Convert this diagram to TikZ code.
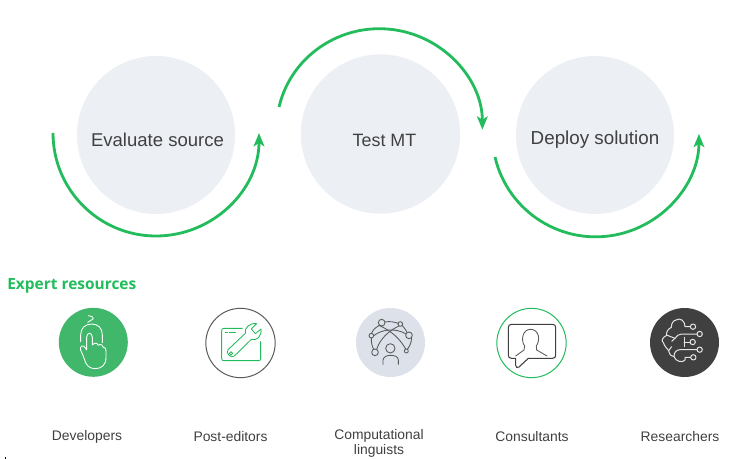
\documentclass[tikz,border=0pt]{standalone}
\usepackage{fontspec}
\setmainfont{Liberation Sans}
\newfontfamily\headfont{Open Sans}
\usetikzlibrary{arrows.meta}
\definecolor{gr}{HTML}{22BC5C}
\definecolor{grfill}{HTML}{41B76B}
\definecolor{pale}{HTML}{ECEFF4}
\definecolor{slate}{HTML}{DCE1EA}
\definecolor{ink}{HTML}{404040}
\definecolor{wire}{HTML}{5A5A5A}
\tikzset{
  stagetext/.style={text=ink,inner sep=0},
  flow/.style={draw=gr,line width=2.1pt,-{Stealth[length=10pt,width=8pt,inset=2.5pt]}},
  lab/.style={text=ink,font=\fontsize{10.4}{11.3}\selectfont,align=center,inner sep=0},
  badge/.style={circle,inner sep=0,minimum size=51.75pt},
  icon/.style={line width=.65pt,line cap=round,line join=round},
}
\begin{document}
\begin{tikzpicture}[x=.75pt,y=-.75pt]
\useasboundingbox (0,0) rectangle (745,459);
% stage circles
\node[circle,fill=pale,inner sep=0,minimum size=118.5pt] (c1) at (156,135) {};
\node[circle,fill=pale,inner sep=0,minimum size=119.5pt] (c2) at (380.5,134) {};
\node[circle,fill=pale,inner sep=0,minimum size=118.5pt] (c3) at (595,135) {};
\node[stagetext,font=\fontsize{13.9}{16}\selectfont] (t1) at (157.5,140) {Evaluate source};
\node[stagetext,font=\fontsize{13.4}{16}\selectfont] (t2) at (384.5,140) {Test MT};
\node[stagetext,font=\fontsize{14.1}{16}\selectfont] (t3) at (595,140) {Deploy solution};
% arcs
\coordinate (a1) at (53,133);
\coordinate (a2) at (279,107);
\coordinate (a3) at (495,157);
\draw[flow] (a1) arc[start angle=180,end angle=0,radius=103];
\draw[flow] (a2) arc[start angle=193,end angle=360,x radius=103,y radius=101];
\draw[flow] (a3) arc[start angle=167,end angle=0,x radius=103.3,y radius=103];
% heading
\node[anchor=west,inner sep=0,text=gr,font=\headfont\bfseries\fontsize{11.6}{13}\selectfont] (head) at (7,285.5) {Expert resources};
% badges
\node[badge,fill=grfill] (b1) at (93.3,342.3) {};
\node[badge,draw=wire,line width=.75pt,minimum size=52pt] (b2) at (240.5,343) {};
\node[badge,fill=slate] (b3) at (390.5,342.5) {};
\node[badge,draw=gr,line width=.75pt,minimum size=52pt] (b4) at (531.5,343) {};
\node[badge,fill=ink] (b5) at (684.5,342.5) {};
% icon 1
\begin{scope}[shift={(40,300)},x=.25pt,y=-.25pt,icon,draw=white]
\draw (145,47) .. controls (155,49) and (163,52) .. (160,56) .. controls (157,61) and (148,62) .. (143,67);
\draw (122,125) -- (122,105) .. controls (122,85) and (135,72) .. (155,72) .. controls (175,72) and (187,85) .. (187,105) -- (187,128);
\draw (124,155) .. controls (118,146) and (122,136) .. (130,138) .. controls (135,140) and (138,146) .. (140,150)
  -- (140,112) .. controls (140,96) and (157,96) .. (157,112) -- (157,135)
  .. controls (165,127) and (172,128) .. (174,136) .. controls (182,130) and (190,136) .. (190,142)
  .. controls (194,140) and (198,145) .. (198,155) -- (198,172) .. controls (198,195) and (185,206) .. (165,206)
  .. controls (148,206) and (138,195) .. (134,180) .. controls (131,170) and (128,163) .. (124,155);
\end{scope}
% icon 2
\begin{scope}[shift={(40,300)},x=.25pt,y=-.25pt,icon,draw=gr]
\draw (607,85) -- (552,85) .. controls (547,85) and (545,87) .. (545,92) -- (545,176) .. controls (545,180) and (547,182) .. (552,182) -- (655,182) .. controls (660,182) and (662,180) .. (662,176) -- (662,125);
\draw (555,97) -- (562,97) (568,97) -- (586,97);
\draw (564,149) -- (616,100) .. controls (612,85) and (628,68) .. (650,71) -- (634,87) -- (646,101) -- (663,87)
 .. controls (666,108) and (650,124) .. (634,118) -- (583,168) .. controls (573,176) and (556,160) .. (564,149);
\draw (573,160) circle[radius=5];
\end{scope}
% icon 3
\begin{scope}[shift={(340,300)},x=.25pt,y=-.25pt,icon,draw=wire]
\draw (125,68) circle[radius=10] (181,72) circle[radius=7] (207,106) circle[radius=10]
 (94,107) circle[radius=7] (105,157) circle[radius=10] (199,153) circle[radius=6] (151,145) circle[radius=14];
\draw (135,66) .. controls (150,63) and (162,66) .. (175,70);
\draw (118,76) .. controls (104,84) and (97,92) .. (95,100);
\draw (187,77) .. controls (193,84) and (198,90) .. (201,97);
\draw (215,113) .. controls (214,130) and (208,140) .. (202,148);
\draw (94,114) .. controls (93,128) and (97,140) .. (101,148);
\draw (101,107) .. controls (130,85) and (170,85) .. (198,102);
\draw (117,76) .. controls (135,85) and (170,100) .. (197,147);
\draw (177,78) .. controls (150,90) and (120,115) .. (110,148);
\draw (129,193) -- (129,180) .. controls (131,170) and (140,166) .. (152,166) .. controls (165,166) and (174,170) .. (175,180) -- (175,193);
\end{scope}
% icon 4
\begin{scope}[shift={(340,300)},x=.25pt,y=-.25pt,icon,draw=ink]
\draw[line width=.8pt] (515,73) -- (637,73) .. controls (644,73) and (647,76) .. (647,83) -- (647,165) .. controls (647,172) and (644,175) .. (637,175)
 -- (565,175) -- (537,201) .. controls (532,205) and (527,202) .. (527,196) -- (527,175) -- (515,175) .. controls (508,175) and (505,172) .. (505,165) -- (505,83) .. controls (505,76) and (508,73) .. (515,73);
\draw[draw=wire] (527,168) -- (552,150) -- (554,138) .. controls (548,130) and (546,118) .. (549,107) .. controls (552,94) and (562,88) .. (572,88) .. controls (584,88) and (592,96) .. (595,107) .. controls (597,118) and (595,130) .. (589,138) -- (590,150) -- (621,168);
\end{scope}
% icon 5
\begin{scope}[shift={(630,300)},x=.25pt,y=-.25pt,icon,line width=.75pt,draw=white!90!black]
\draw (189,80) circle[radius=8] (209,102) circle[radius=8] (188,126) circle[radius=8] (209,149) circle[radius=8] (190,172) circle[radius=8];
\draw (181,80) -- (165,80) .. controls (165,62) and (150,52) .. (138,60) .. controls (128,62) and (124,72) .. (124,82) .. controls (112,88) and (108,98) .. (110,106) .. controls (98,112) and (92,122) .. (100,128) .. controls (104,140) and (112,146) .. (116,152) .. controls (118,165) and (126,170) .. (132,170) .. controls (136,184) and (158,190) .. (165,180) -- (165,172) -- (182,172);
\draw (201,102) -- (155,102) .. controls (145,102) and (140,108) .. (135,115) -- (112,106);
\draw (135,115) -- (125,124);
\draw (180,126) -- (162,126);
\draw (162,112) -- (162,140);
\draw (201,149) -- (150,149) .. controls (140,150) and (132,155) .. (132,170);
\draw (116,152) -- (125,140);
\end{scope}
% labels
\node[lab] (l1) at (87,437) {Developers};
\node[lab] (l2) at (230.5,437) {Post-editors};
\node[lab] (l3) at (379,443) {Computational\\linguists};
\node[lab] (l4) at (532,437) {Consultants};
\node[lab] (l5) at (680,437) {Researchers};
% stray mark at the lower left of the reference
\fill[black] (5,457) rectangle (6,459);
\end{tikzpicture}
\end{document}
